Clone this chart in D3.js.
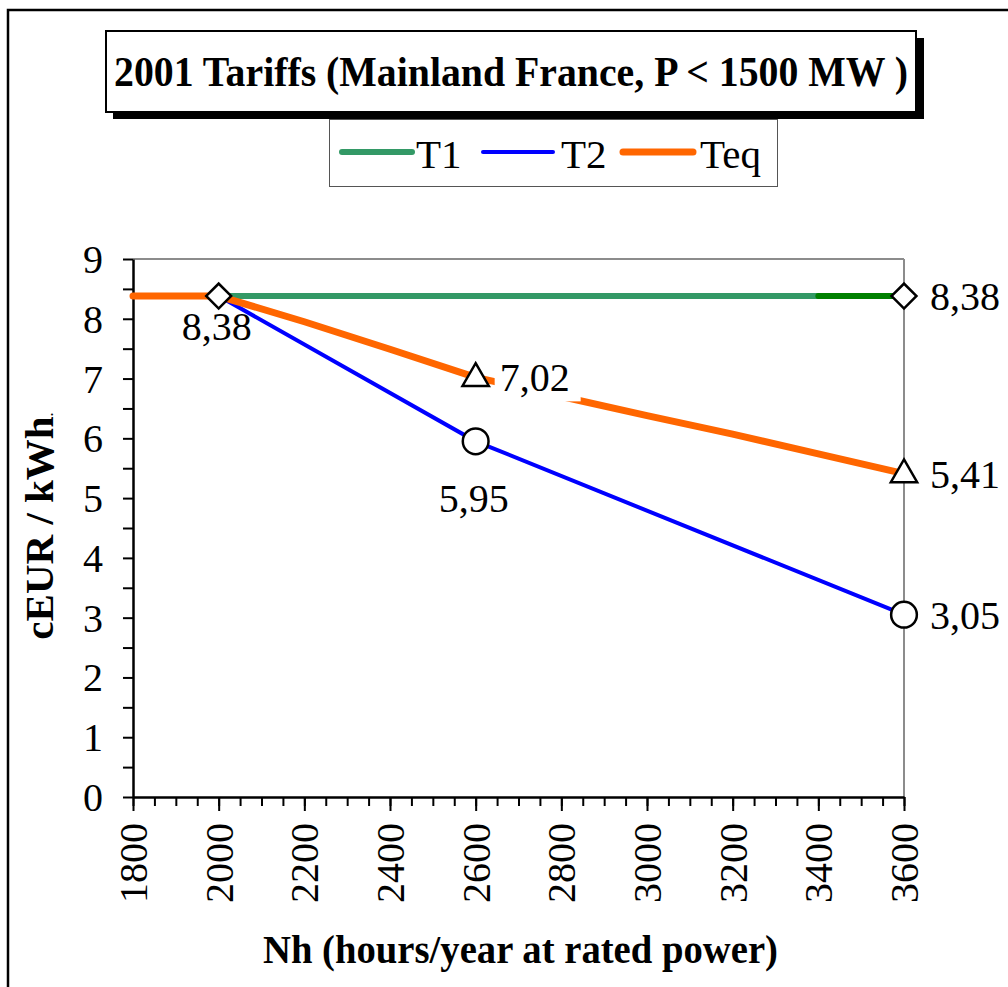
<!DOCTYPE html>
<html lang="en">
<head>
    <meta charset="UTF-8">
    <title>2001 Tariffs</title>
    <script src="https://d3js.org/d3.v7.min.js"></script>
    <style>
        body { margin: 0; background: #fff; }
        text { font-family: "Liberation Serif", "Times New Roman", serif; }
    </style>
</head>
<body>

<script>
    // data
    let t1Nh = [2000, 3400, 3600];
    let t1Val = [8.38, 8.38, 8.38];
    let t2Nh = [2000, 2600, 3600];
    let t2Val = [8.38, 5.95, 3.05];
    let teqNh = [1800, 2000, 2200, 2400, 2600, 2800, 3000, 3200, 3400, 3600];
    let teqVal = [8.38, 8.38, 7.95, 7.49, 7.02, 6.70, 6.38, 6.07, 5.74, 5.41];

    let markerNh = [2000, 3600, 2600, 3600, 2600, 3600];
    let markerVal = [8.38, 8.38, 7.02, 5.41, 5.95, 3.05];
    let markerShape = ["diamond", "diamond", "triangle", "triangle", "circle", "circle"];
    let markerText = ["8,38", "8,38", "7,02", "5,41", "5,95", "3,05"];

    let xTicks = [1800, 2000, 2200, 2400, 2600, 2800, 3000, 3200, 3400, 3600];
    let yTicks = [0, 1, 2, 3, 4, 5, 6, 7, 8, 9];
    let seriesNames = ["T1", "T2", "Teq"];
    let seriesColors = ["#339966", "#0000ff", "#ff6600"];

    let W = 1008, H = 987;
    let svg = d3.select("body").append("svg")
        .attr("width", W)
        .attr("height", H);

    // outer frame
    svg.append("rect")
        .attr("x", 8).attr("y", 10)
        .attr("width", 1100).attr("height", 1100)
        .style("fill", "none").style("stroke", "black").style("stroke-width", 2.5);

    let x = d3.scaleLinear().domain([1800, 3600]).range([133, 904]);
    let y = d3.scaleLinear().domain([0, 9]).range([797, 259]);

    // plot border (grey top/right)
    svg.append("line")
        .attr("x1", x(1800)).attr("x2", x(3600)).attr("y1", y(9)).attr("y2", y(9))
        .style("stroke", "#8c8c8c").style("stroke-width", 2);
    svg.append("line")
        .attr("x1", x(3600)).attr("x2", x(3600)).attr("y1", y(9)).attr("y2", y(0))
        .style("stroke", "#8c8c8c").style("stroke-width", 2);

    // x axis: minor ticks every 50, major every 200
    let xAxisG = svg.append("g").attr("transform", `translate(0,${y(0)})`);
    xAxisG.append("g")
        .call(d3.axisBottom(x).tickValues(d3.range(1800, 3601, 50)).tickSize(9).tickFormat(""))
        .call(g => g.select(".domain").remove());
    xAxisG.append("g")
        .call(d3.axisBottom(x).tickValues(xTicks).tickSize(14).tickSizeOuter(0).tickFormat(""))
        .call(g => g.select(".domain").style("stroke-width", 2.5));
    xAxisG.selectAll(".tick line").style("stroke", "black").style("stroke-width", 2);

    xAxisG.selectAll(".xlab").data(xTicks).enter()
        .append("text")
        .attr("class", "xlab")
        .attr("transform", d => `translate(${x(d)},26) rotate(-90)`)
        .attr("dy", "0.35em")
        .style("text-anchor", "end")
        .style("font-size", "40px")
        .text(d => d);

    // y axis
    let yAxisG = svg.append("g").attr("transform", `translate(${x(1800)},0)`);
    yAxisG.append("g")
        .call(d3.axisLeft(y).tickValues(d3.range(0, 9.01, 0.5)).tickSize(10).tickSizeOuter(0).tickFormat(""))
        .call(g => g.select(".domain").style("stroke-width", 2.5));
    yAxisG.selectAll(".tick line").style("stroke", "black").style("stroke-width", 2);
    yAxisG.selectAll(".ylab").data(yTicks).enter()
        .append("text")
        .attr("class", "ylab")
        .attr("x", -30)
        .attr("y", d => y(d))
        .attr("dy", "0.35em")
        .style("text-anchor", "end")
        .style("font-size", "40px")
        .text(d => d);

    // axis titles
    svg.append("text")
        .attr("x", (x(1800) + x(3600)) / 2 + 2)
        .attr("y", 963)
        .attr("textLength", 515)
        .attr("lengthAdjust", "spacingAndGlyphs")
        .style("text-anchor", "middle")
        .style("font-size", "41px")
        .style("font-weight", "bold")
        .text("Nh (hours/year at rated power)");

    let yTitle = svg.append("text")
        .attr("transform", "translate(53,526) rotate(-90)")
        .style("text-anchor", "middle")
        .style("font-size", "41px")
        .style("font-weight", "bold");
    yTitle.append("tspan").text("cEUR / kWh");
    yTitle.append("tspan").style("font-size", "16px").style("font-weight", "normal").text(".");

    // lines
    let line = d3.line().x(d => x(d[0])).y(d => y(d[1]));
    let t1 = d3.zip(t1Nh, t1Val);
    let t2 = d3.zip(t2Nh, t2Val);
    let teq = d3.zip(teqNh, teqVal);

    svg.append("path").datum(t1).attr("d", line)
        .style("fill", "none").style("stroke", seriesColors[0]).style("stroke-width", 6);
    svg.append("path").datum(t1.slice(-2)).attr("d", line)
        .style("fill", "none").style("stroke", "#008000").style("stroke-width", 6)
        .style("stroke-linecap", "round");
    svg.append("path").datum(t2).attr("d", line)
        .style("fill", "none").style("stroke", seriesColors[1]).style("stroke-width", 4);
    svg.append("path").datum(teq).attr("d", line)
        .style("fill", "none").style("stroke", seriesColors[2]).style("stroke-width", 7)
        .style("stroke-linecap", "round").style("stroke-linejoin", "round");

    // label background for 7,02 (cuts the orange line)
    svg.append("rect")
        .attr("x", x(2600) + 19).attr("y", y(7.02) - 24)
        .attr("width", 86).attr("height", 48)
        .style("fill", "white");

    // markers
    let symbols = {
        diamond: d3.symbol().type(d3.symbolSquare).size(310),
        triangle: d3.symbol().type(d3.symbolTriangle).size(300),
        circle: d3.symbol().type(d3.symbolCircle).size(520)
    };
    let markers = markerNh.map((n, i) => ({nh: n, v: markerVal[i], shape: markerShape[i], text: markerText[i]}));
    svg.selectAll(".marker").data(markers).enter()
        .append("path")
        .attr("class", "marker")
        .attr("d", d => symbols[d.shape]())
        .attr("transform", d => `translate(${x(d.nh)},${y(d.v) + (d.shape == "triangle" ? 1 : 0)})` + (d.shape == "diamond" ? " rotate(45)" : ""))
        .style("fill", "white")
        .style("stroke", "black")
        .style("stroke-width", 2.5);

    // data labels
    svg.selectAll(".dlab").data(markers).enter()
        .append("text")
        .attr("class", "dlab")
        .attr("x", d => d.nh == 3600 ? x(d.nh) + 26 : (d.shape == "triangle" ? x(d.nh) + 24 : x(d.nh) - 2))
        .attr("y", d => {
            if (d.nh == 3600 || d.shape == "triangle") return y(d.v);
            return d.shape == "diamond" ? y(d.v) + 30 : y(d.v) + 57;
        })
        .attr("dy", "0.35em")
        .style("text-anchor", d => (d.nh == 3600 || d.shape == "triangle") ? "start" : "middle")
        .style("font-size", "40px")
        .text(d => d.text);

    // title box with shadow
    svg.append("rect").attr("x", 113).attr("y", 38).attr("width", 811).attr("height", 81)
        .style("fill", "black");
    svg.append("rect").attr("x", 106).attr("y", 31).attr("width", 810).attr("height", 81)
        .style("fill", "white").style("stroke", "black").style("stroke-width", 2);
    svg.append("text")
        .attr("x", 511).attr("y", 86)
        .attr("textLength", 794)
        .attr("lengthAdjust", "spacingAndGlyphs")
        .style("text-anchor", "middle")
        .style("font-size", "43px")
        .style("font-weight", "bold")
        .text("2001 Tariffs (Mainland France, P < 1500 MW )");

    // legend
    svg.append("rect")
        .attr("x", 329.5).attr("y", 119.5).attr("width", 448).attr("height", 67)
        .style("fill", "white").style("stroke", "#555").style("stroke-width", 1);
    let legendX = [342, 483, 623];
    let legendTextX = [416, 561, 700];
    let legendW = [6, 4, 7];
    seriesNames.forEach((name, i) => {
        svg.append("line")
            .attr("x1", legendX[i]).attr("x2", legendX[i] + 70)
            .attr("y1", 152).attr("y2", 152)
            .style("stroke", seriesColors[i]).style("stroke-width", legendW[i])
            .style("stroke-linecap", "round");
        svg.append("text")
            .attr("x", legendTextX[i]).attr("y", 168)
            .style("font-size", "41px")
            .text(name);
    });
</script>

</body>
</html>
